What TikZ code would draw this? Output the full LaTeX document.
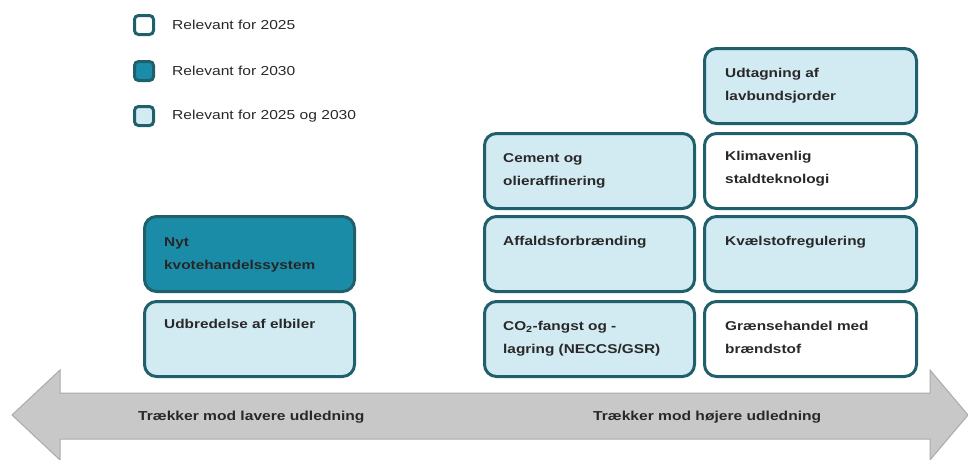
\documentclass[tikz,border=0pt]{standalone}
\usepackage{fontspec}
\usetikzlibrary{positioning,calc}
\newfontfamily\diafont[FakeStretch=1.2]{Liberation Sans}

\definecolor{boxline}{RGB}{32,96,108}
\definecolor{darkfill}{RGB}{27,140,168}
\definecolor{lightfill}{RGB}{210,234,242}
\definecolor{arrowfill}{RGB}{200,200,200}
\definecolor{arrowline}{RGB}{170,170,170}
\definecolor{txt}{RGB}{40,40,40}

\begin{document}
\begin{tikzpicture}[x=1pt, y=-1pt,
    every node/.style={inner sep=0pt},
    box/.style={draw=boxline, line width=3pt, rounded corners=12pt, minimum width=210pt, minimum height=75pt, anchor=north west},
    boxtext/.style={anchor=north west, align=left, text=txt, font=\diafont\fontsize{12.8}{23}\selectfont\bfseries},
    legendsq/.style={draw=boxline, line width=3pt, rounded corners=4pt, minimum size=19pt},
    legendtext/.style={text=txt, font=\diafont\fontsize{13}{15}\selectfont},
    arrowtext/.style={anchor=base west, text=txt, font=\diafont\fontsize{13}{15}\selectfont\bfseries}]

        \useasboundingbox (0,0) rectangle (968,459);

        % legend
        \node[legendsq, fill=white] (l25) at (144,25) {};
        \node[legendsq, fill=darkfill] (l30) at (144,71) {};
        \node[legendsq, fill=lightfill] (lboth) at (144,116) {};
        \node[legendtext, right=17pt of l25] (t25) {Relevant for 2025};
        \node[legendtext, right=17pt of l30] (t30) {Relevant for 2030};
        \node[legendtext, right=17pt of lboth] (tboth) {Relevant for 2025 og 2030};

        % double arrow
        \draw[fill=arrowfill, draw=arrowline, line width=1pt] (12,415) -- (60,370) -- (60,393) -- (930,393) -- (930,370) -- (968,415) -- (930,460) -- (930,439) -- (60,439) -- (60,460) -- cycle;
        \node[arrowtext] (lower) at (138,420) {Trækker mod lavere udledning};
        \node[arrowtext] (higher) at (593,420) {Trækker mod højere udledning};

        % left column
        \node[box, fill=darkfill] (nyt) at (143,215) {};
        \node[box, fill=lightfill] (elbil) at (143,300) {};

        % middle column
        \node[box, fill=lightfill] (cement) at (483,132) {};
        \node[box, fill=lightfill] (affald) at (483,215) {};
        \node[box, fill=lightfill] (ccs) at (483,300) {};

        % right column
        \node[box, fill=lightfill, minimum width=212pt] (udtag) at (703,47) {};
        \node[box, fill=white, minimum width=212pt] (klima) at (703,132) {};
        \node[box, fill=lightfill, minimum width=212pt] (kvaelstof) at (703,215) {};
        \node[box, fill=white, minimum width=212pt] (graense) at (703,300) {};

        \node[boxtext, text=black!85] (nyt-t) at ($(nyt.north west)+(21,22)$) {Nyt\\kvotehandelssystem};
        \node[boxtext] (elbil-t) at ($(elbil.north west)+(21,19)$) {Udbredelse af elbiler};
        \node[boxtext] (cement-t) at ($(cement.north west)+(20,21)$) {Cement og\\olieraffinering};
        \node[boxtext] (affald-t) at ($(affald.north west)+(20,21)$) {Affaldsforbrænding};
        \node[boxtext] (ccs-t) at ($(ccs.north west)+(20,21)$) {CO\textsubscript{2}-fangst og -\\lagring (NECCS/GSR)};
        \node[boxtext] (udtag-t) at ($(udtag.north west)+(22,21)$) {Udtagning af\\lavbundsjorder};
        \node[boxtext] (klima-t) at ($(klima.north west)+(22,19)$) {Klimavenlig\\staldteknologi};
        \node[boxtext] (kvaelstof-t) at ($(kvaelstof.north west)+(22,21)$) {Kvælstofregulering};
        \node[boxtext] (graense-t) at ($(graense.north west)+(22,21)$) {Grænsehandel med\\brændstof};

\end{tikzpicture}
\end{document}
